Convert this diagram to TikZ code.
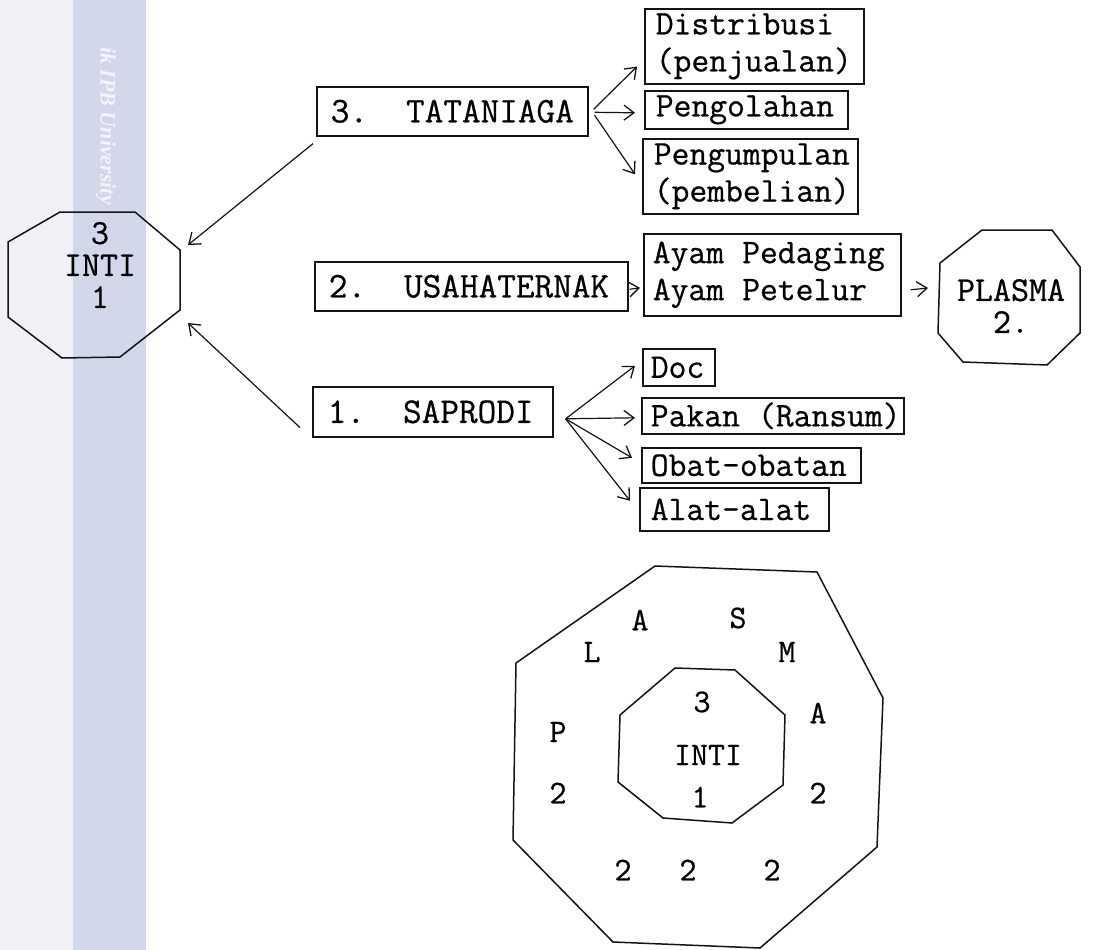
\documentclass[tikz,border=0pt]{standalone}
\usepackage{fontspec}
\newfontfamily\wmfont{Liberation Serif}
\newfontfamily\typew[FakeBold=0.6]{Latin Modern Mono}
\newcommand\tsp{\hspace*{0.525em}}
\usetikzlibrary{arrows.meta,calc}
\definecolor{inkc}{HTML}{141414}
\definecolor{bandc}{HTML}{D3D7EA}
\definecolor{stripc}{HTML}{F1F1F5}
\definecolor{wmtext}{HTML}{F4F4F8}
\tikzset{
  ink/.style={draw=inkc, line width=1.6pt},
  box/.style={ink, rectangle, anchor=north west, inner ysep=0pt, inner xsep=11pt,
    align=left, font=\fontsize{34.6}{37}\selectfont\typew},
  headbox/.style={box, inner xsep=12pt, font=\fontsize{36.2}{40}\selectfont\typew},
  arr/.style={draw=inkc, line width=1.2pt,
    -{Straight Barb[length=10pt,width=15pt,line width=1.3pt]}},
  octo/.style={ink, line width=1.5pt},
  lbl/.style={inner sep=0pt, align=center, font=\fontsize{35}{32}\selectfont\typew},
  ringlbl/.style={inner sep=0pt, font=\fontsize{33}{33}\selectfont\typew},
}
\begin{document}
\begin{tikzpicture}[x=1pt, y=-1pt]
\useasboundingbox (0,0) rectangle (1116,950);
\fill[white] (0,0) rectangle (1116,950);

% margin band
\fill[stripc] (0,0) rectangle (73,950);
\fill[bandc] (73,0) rectangle (146,950);
\node[rotate=-90, anchor=east, text=wmtext, inner sep=0pt,
  font=\wmfont\bfseries\itshape\fontsize{22}{22}\selectfont] (wm) at (106,205) {ik IPB University};

% INTI (left octagon)
\draw[octo] (60,212) -- (135,212) -- (180,250) -- (180,310) -- (120,357)
  -- (62,358) -- (8,317) -- (8,242) -- cycle;
\node[lbl] (inti) at (100,265) {3\\INTI\\1};
\coordinate (intiA) at (188,245);
\coordinate (intiB) at (188,323);

% three main activities
\node[headbox, inner xsep=14pt, text width=243pt, minimum height=49pt] (tata) at (316,86) {\mbox{3.\tsp\tsp TATANIAGA}};
\node[headbox, inner xsep=14pt, text width=285pt, minimum height=49pt] (usaha) at (314,261) {\mbox{2.\tsp\tsp USAHATERNAK}};
\node[headbox, inner xsep=15pt, text width=210pt, minimum height=50pt] (sap) at (312,386) {\mbox{1.\tsp\tsp SAPRODI}};

% TATANIAGA branches
\node[box, text width=197pt, minimum height=75pt] (dist) at (644,8) {\mbox{Distribusi}\\\mbox{(penjualan)}};
\node[box, text width=181pt, minimum height=38pt] (olah) at (644,90) {\mbox{Pengolahan}};
\node[box, text width=193pt, minimum height=75pt] (kumpul) at (642,138) {\mbox{Pengumpulan}\\\mbox{(pembelian)}};

% USAHATERNAK branch
\node[box, inner xsep=9pt, text width=239pt, minimum height=82pt] (ayam) at (643,233) {\mbox{Ayam\tsp Pedaging}\\\mbox{Ayam\tsp Petelur}};

% SAPRODI branches
\node[box, inner xsep=8pt, text width=56pt, minimum height=37pt] (doc) at (642,348) {\mbox{Doc}};
\node[box, inner xsep=9pt, text width=244pt, minimum height=36pt] (pakan) at (641,397) {\mbox{Pakan\tsp(Ransum)}};
\node[box, inner xsep=9pt, text width=201pt, minimum height=35pt] (obat) at (641,447) {\mbox{Obat-obatan}};
\node[box, text width=167pt, minimum height=43pt] (alat) at (639,487) {\mbox{Alat-alat}};

% PLASMA (right octagon)
\draw[octo] (982,230) -- (1052,230) -- (1080,267) -- (1080,333) -- (1047,365)
  -- (963,362) -- (938,333) -- (940,263) -- cycle;
\node[lbl] (plasma) at (1011,306) {PLASMA\\2.};
\coordinate (plasmaIn) at (928,288);

% connectors
\draw[arr] ($(tata.south west)+(-3,7)$) -- (intiA);
\draw[arr] ($(sap.south west)+(-12,-10)$) -- (intiB);

\draw[arr] ($(tata.east)+(5,-2)$) -- ($(dist.south west)+(-7,-18)$);
\draw[arr] ($(tata.east)+(6,1)$) -- ($(olah.west)+(-9,3)$);
\draw[arr] ($(tata.east)+(6,4)$) -- ($(kumpul.west)+(-7,-2)$);

\draw[arr] ($(usaha.east)+(1,3)$) -- ($(ayam.west)+(-3,13)$);
\draw[arr] ($(ayam.east)+(9,15)$) -- (plasmaIn);

\draw[arr] ($(sap.east)+(12,7)$) -- ($(doc.west)+(-7,-1.5)$);
\draw[arr] ($(sap.east)+(12,7)$) -- ($(pakan.west)+(-6,2)$);
\draw[arr] ($(sap.east)+(12,7)$) -- ($(obat.west)+(-9,-7.5)$);
\draw[arr] ($(sap.east)+(12,7)$) -- ($(alat.west)+(-9,-8.5)$);

% nested octagons: plasma ring around the core
\draw[octo] (655,566) -- (817,572) -- (883,698) -- (877,847) -- (760,948)
  -- (613,942) -- (513,840) -- (516,663) -- cycle;
\draw[octo] (675,668) -- (735,670) -- (785,715) -- (783,785) -- (732,823)
  -- (663,818) -- (618,782) -- (620,715) -- cycle;

\node[ringlbl] (rA1) at (640,620) {A};
\node[ringlbl] (rS) at (738,618) {S};
\node[ringlbl] (rL) at (592,652) {L};
\node[ringlbl] (rM) at (787,652) {M};
\node[ringlbl] (rP) at (558,732) {P};
\node[ringlbl] (rA2) at (818,713) {A};
\node[ringlbl] (r2a) at (558,793) {2};
\node[ringlbl] (r2b) at (818,793) {2};
\node[ringlbl] (r2c) at (623,870) {2};
\node[ringlbl] (r2d) at (688,870) {2};
\node[ringlbl] (r2e) at (772,870) {2};

\node[ringlbl] (c3) at (702,702) {3};
\node[ringlbl] (cinti) at (708,755) {INTI};
\node[ringlbl] (c1) at (700,797) {1};
\end{tikzpicture}
\end{document}
